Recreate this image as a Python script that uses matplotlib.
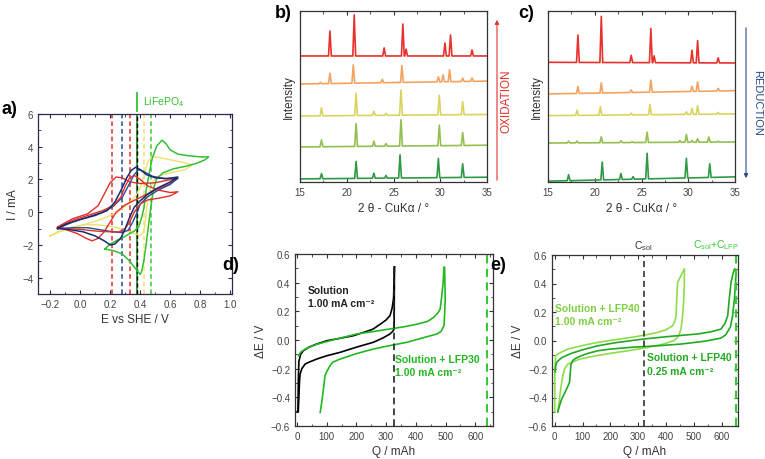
import numpy as np
import matplotlib
matplotlib.use('Agg')
import matplotlib.pyplot as plt
from matplotlib.patches import FancyArrowPatch
from matplotlib.ticker import MultipleLocator

plt.rcParams['font.family'] = ['Liberation Sans', 'DejaVu Sans']
plt.rcParams['mathtext.default'] = 'regular'

# ---------------- a) cyclic voltammograms ----------------
green_cv_x = [0.165, 0.20, 0.26, 0.31, 0.36, 0.39, 0.41, 0.425, 0.44, 0.46, 0.48, 0.51, 0.545, 0.57,
              0.60, 0.65, 0.72, 0.80, 0.855, 0.83, 0.78, 0.70, 0.62, 0.55, 0.51, 0.49, 0.478, 0.466,
              0.455, 0.44, 0.425, 0.41, 0.40, 0.385, 0.36, 0.32, 0.28, 0.22, 0.165]
green_cv_y = [-2.25, -1.95, -1.65, -1.42, -1.15, -0.9, -0.3, 0.3, 1.4, 2.4, 3.3, 4.05, 4.4, 4.2,
              3.8, 3.55, 3.45, 3.38, 3.38, 3.2, 3.0, 2.8, 2.65, 2.4, 2.05, 1.5, 0.8, 0.0,
              -0.8, -1.9, -2.9, -3.6, -3.8, -3.65, -3.35, -2.9, -2.55, -2.35, -2.25]
yellow_cv_x = [-0.2, -0.15, -0.05, 0.05, 0.15, 0.25, 0.32, 0.37, 0.40, 0.43, 0.45, 0.48, 0.52, 0.60,
               0.68, 0.745, 0.70, 0.62, 0.55, 0.50, 0.47, 0.45, 0.44, 0.43, 0.42, 0.40, 0.37, 0.32,
               0.25, 0.15, 0.05, -0.05, -0.15, -0.2]
yellow_cv_y = [-1.45, -1.2, -0.95, -0.7, -0.4, 0.0, 0.5, 1.0, 1.5, 2.4, 3.1, 3.4, 3.35, 3.2,
               3.05, 2.9, 2.6, 2.45, 2.3, 2.1, 1.6, 0.8, 0.0, -0.8, -1.25, -1.4, -1.35, -1.15,
               -0.95, -0.8, -0.75, -0.9, -1.25, -1.45]
blue1_cv_x = [-0.15, -0.1, 0.0, 0.1, 0.18, 0.23, 0.27, 0.31, 0.34, 0.37, 0.40, 0.44, 0.50, 0.58, 0.65,
              0.60, 0.52, 0.45, 0.40, 0.36, 0.33, 0.30, 0.27, 0.23, 0.20, 0.16, 0.10, 0.02, -0.08, -0.15]
blue1_cv_y = [-1.0, -0.75, -0.45, -0.2, 0.1, 0.6, 1.3, 2.1, 2.55, 2.75, 2.6, 2.3, 2.1, 2.05, 2.15,
              1.85, 1.5, 1.1, 0.7, 0.3, -0.3, -1.0, -1.6, -1.95, -2.0, -1.75, -1.45, -1.2, -1.05, -1.0]
blue2_cv_x = [-0.15, -0.05, 0.05, 0.15, 0.22, 0.28, 0.32, 0.36, 0.39, 0.42, 0.48, 0.56, 0.65,
              0.60, 0.52, 0.45, 0.40, 0.38, 0.35, 0.32, 0.28, 0.22, 0.15, 0.05, -0.05, -0.15]
blue2_cv_y = [-1.0, -0.6, -0.3, 0.0, 0.35, 0.9, 1.6, 2.3, 2.6, 2.5, 2.2, 2.05, 2.1,
              1.7, 1.35, 0.95, 0.5, 0.0, -0.6, -1.1, -1.25, -1.2, -1.1, -0.95, -0.95, -1.0]
red1_cv_x = [-0.15, -0.05, 0.05, 0.12, 0.16, 0.20, 0.24, 0.28, 0.33, 0.40, 0.50, 0.58, 0.65,
             0.60, 0.50, 0.40, 0.30, 0.24, 0.20, 0.16, 0.12, 0.08, 0.04, -0.02, -0.10, -0.15]
red1_cv_y = [-0.9, -0.4, -0.1, 0.4, 1.1, 1.8, 2.15, 2.1, 1.85, 1.75, 1.8, 1.95, 2.05,
             1.75, 1.35, 0.9, 0.45, 0.0, -0.6, -1.2, -1.6, -1.75, -1.6, -1.3, -1.05, -0.9]
red2_cv_x = [-0.15, -0.05, 0.05, 0.15, 0.22, 0.27, 0.30, 0.33, 0.36, 0.40, 0.45, 0.52, 0.60, 0.65,
             0.60, 0.52, 0.45, 0.40, 0.36, 0.33, 0.30, 0.26, 0.20, 0.10, 0.0, -0.10, -0.15]
red2_cv_y = [-0.95, -0.5, -0.2, 0.1, 0.4, 0.9, 1.6, 2.1, 2.25, 2.0, 1.6, 1.35, 1.2, 1.25,
             1.0, 0.85, 0.75, 0.5, 0.0, -0.6, -1.0, -1.2, -1.2, -1.15, -1.05, -1.0, -0.95]
e0_lines = [0.21, 0.28, 0.335, 0.425, 0.47]
e0_colors = ['#e0302a', '#2a4a9a', '#e0302a', '#f0e070', '#33cc33']
lfp_e0 = 0.378

# ---------------- b), c) XRD patterns ----------------
xrd_colors = ['#e8312a', '#f4a35e', '#d9d45e', '#93bf4f', '#2f9a45']
ox_base = [(73.7, 73.7), (57.3, 59.0), (38.6, 39.5), (20.5, 21.5), (1.8, 2.8)]
ox_peaks = [
    [(18.2, 14.6), (20.8, 24.0), (24.0, 4.7), (26.0, 18.7), (26.35, 4.0), (30.5, 7.6), (31.1, 12.3), (33.4, 3.5)],
    [(17.2, 0.8), (18.2, 6.0), (20.7, 10.7), (23.8, 2.0), (25.9, 9.8), (29.8, 3.0), (30.3, 4.0), (31.0, 7.0), (32.4, 2.0), (33.4, 2.0)],
    [(17.3, 4.6), (21.0, 13.0), (22.9, 2.5), (24.2, 1.2), (25.8, 14.8), (29.9, 11.5), (32.4, 7.6)],
    [(17.3, 4.0), (21.0, 13.4), (22.9, 3.0), (24.2, 1.5), (25.8, 15.3), (29.9, 12.0), (32.4, 7.5)],
    [(17.3, 3.0), (21.0, 10.0), (22.9, 3.0), (24.2, 1.5), (25.7, 13.6), (29.8, 11.2), (32.4, 8.0)],
]
red_base = [(70.0, 69.6), (51.5, 53.4), (38.8, 39.8), (22.8, 23.4), (0.5, 3.0)]
red_peaks = [
    [(18.2, 16.0), (20.7, 27.0), (23.9, 4.3), (26.0, 20.0), (26.35, 4.0), (30.4, 7.4), (31.0, 13.0), (33.2, 3.0)],
    [(18.2, 4.0), (20.7, 6.0), (23.9, 1.5), (26.0, 7.0), (30.4, 3.0), (31.0, 5.5), (33.2, 1.5)],
    [(18.1, 3.0), (20.6, 5.0), (23.9, 1.0), (25.9, 6.0), (29.8, 1.5), (30.4, 3.5), (31.0, 5.0), (33.2, 1.0)],
    [(17.2, 1.0), (18.1, 1.0), (20.7, 3.5), (22.8, 1.0), (24.0, 0.5), (25.6, 6.0), (29.1, 1.0), (29.8, 4.5),
     (30.4, 1.0), (31.0, 2.0), (32.2, 3.0), (33.2, 0.5)],
    [(17.2, 3.5), (20.8, 10.5), (22.8, 3.5), (24.1, 1.5), (25.6, 15.0), (29.8, 11.5), (32.3, 8.0)],
]

# ---------------- d) solution vs solution + LFP30 ----------------
sol_ch_q = [0, 3, 4, 6, 12, 21, 40, 66, 100, 145, 190, 224, 255, 280, 300, 313, 320, 325, 328]
sol_ch_e = [-0.50, -0.50, -0.30, -0.15, -0.10, -0.075, -0.05, -0.028, -0.005, 0.012, 0.03, 0.053, 0.075,
            0.11, 0.14, 0.17, 0.22, 0.29, 0.51]
sol_dis_q = [328, 327, 322, 313, 290, 257, 200, 145, 100, 66, 40, 27, 16, 10, 8, 6, 4]
sol_dis_e = [0.51, 0.077, 0.06, 0.042, 0.015, -0.016, -0.05, -0.086, -0.11, -0.133, -0.155, -0.168, -0.2,
             -0.24, -0.295, -0.40, -0.50]
lfp30_ch_q = [5, 12, 30, 66, 120, 201, 260, 313, 360, 403, 440, 460, 475, 482, 487, 492, 495]
lfp30_ch_e = [-0.11, -0.085, -0.06, -0.03, 0.0, 0.042, 0.06, 0.077, 0.092, 0.11, 0.13, 0.158, 0.19, 0.216,
              0.30, 0.40, 0.507]
lfp30_dis_q = [497, 499, 497, 495, 485, 471, 420, 370, 310, 257, 200, 145, 120, 111, 100, 94, 89, 84, 78]
lfp30_dis_e = [0.507, 0.29, 0.18, 0.10, 0.06, 0.042, 0.013, -0.016, -0.04, -0.063, -0.095, -0.133, -0.155,
               -0.18, -0.22, -0.25, -0.34, -0.42, -0.505]
c_sol = 325
c_total_d = 640

# ---------------- e) solution + LFP40 ----------------
lfp40a_ch_q = [0, 0, 3, 15, 47, 100, 155, 215, 275, 330, 370, 400, 424, 433, 436, 439, 442, 455, 466]
lfp40a_ch_e = [-0.50, -0.20, -0.107, -0.09, -0.06, -0.035, -0.013, 0.005, 0.022, 0.04, 0.057, 0.075, 0.104,
               0.14, 0.174, 0.30, 0.408, 0.46, 0.50]
lfp40a_dis_q = [466, 466, 464, 460, 454, 445, 430, 390, 335, 270, 200, 140, 90, 65, 47, 35, 29, 22, 17, 11]
lfp40a_dis_e = [0.50, 0.40, 0.29, 0.18, 0.08, 0.03, 0.0, -0.025, -0.048, -0.07, -0.09, -0.11, -0.13, -0.15,
                -0.165, -0.2, -0.247, -0.33, -0.41, -0.504]
lfp40b_ch_q = [2, 3, 8, 25, 60, 100, 155, 220, 322, 420, 514, 560, 598, 612, 622, 628, 634, 640, 646]
lfp40b_ch_e = [-0.22, -0.18, -0.15, -0.12, -0.09, -0.065, -0.037, -0.015, 0.011, 0.03, 0.046, 0.06, 0.08,
               0.12, 0.174, 0.30, 0.408, 0.46, 0.50]
lfp40b_dis_q = [648, 652, 650, 646, 640, 632, 615, 598, 540, 454, 370, 275, 200, 155, 120, 95, 75, 65, 58,
                56, 53, 45, 35, 25, 17, 11]
lfp40b_dis_e = [0.50, 0.478, 0.40, 0.29, 0.18, 0.097, 0.04, 0.017, -0.005, -0.025, -0.037, -0.048, -0.06,
                -0.072, -0.09, -0.107, -0.125, -0.14, -0.17, -0.223, -0.294, -0.33, -0.37, -0.41, -0.457, -0.5]
c_total_e = 652


def xrd_trace(base, peaks, w=0.15):
    # baseline segments with narrow spikes at the read peak positions
    b0, b1 = base
    xs, ys = [15.0], [b0]
    for p, h in peaks:
        b = b0 + (b1 - b0) * (p - 15) / 20
        xs += [p - w, p, p + w]
        ys += [b, b + h, b]
    xs.append(35.0)
    ys.append(b1)
    return xs, ys


def frame(ax, color='#333333'):
    for s in ax.spines.values():
        s.set_color(color)
        s.set_linewidth(0.9)
    ax.tick_params(direction='in', which='both', labelsize=7, top=True, right=True,
                   colors=color, labelcolor='#444444')
    ax.tick_params(which='major', length=3)
    ax.tick_params(which='minor', length=1.8)


fig = plt.figure(figsize=(7.65, 4.6), dpi=100)
W, H = 765.0, 460.0


def axes_px(l, t, r, b):
    return fig.add_axes([l / W, 1 - b / H, (r - l) / W, (b - t) / H])


# ----- a -----
ax = axes_px(38, 115, 232, 295)
frame(ax, '#2a2a4a')
for x0, c in zip(e0_lines, e0_colors):
    ax.axvline(x0, color=c, ls='--', lw=1.1, dashes=(3, 2))
ax.axvline(lfp_e0, color='#1a8a1a', lw=1.2)
ax.axvline(lfp_e0, color='black', ls='--', lw=1.0, dashes=(3, 2))
ax.plot(yellow_cv_x, yellow_cv_y, color='#f0e070', lw=1.0)
ax.plot(green_cv_x, green_cv_y, color='#33c033', lw=1.1)
ax.plot(red1_cv_x, red1_cv_y, color='#e0302a', lw=1.0)
ax.plot(blue2_cv_x, blue2_cv_y, color='#2a4a9a', lw=1.0)
ax.plot(red2_cv_x, red2_cv_y, color='#e0302a', lw=1.0)
ax.plot(blue1_cv_x, blue1_cv_y, color='#1b2a6a', lw=1.1)
ax.set_xlim(-0.28, 1.01)
ax.set_ylim(-5, 6)
ax.xaxis.set_major_locator(MultipleLocator(0.2))
ax.xaxis.set_minor_locator(MultipleLocator(0.1))
ax.yaxis.set_major_locator(MultipleLocator(2))
ax.yaxis.set_minor_locator(MultipleLocator(1))
ax.set_xlabel('E vs SHE / V', fontsize=8.5, labelpad=3, color='#333333')
ax.set_ylabel('I / mA', fontsize=8.5, labelpad=2, color='#333333')
ax.plot([lfp_e0, lfp_e0], [6.2, 7.3], color='#33c033', lw=1.3, clip_on=False)
ax.text(0.42, 6.8, 'LiFePO$_4$', color='#33c033', fontsize=7.5, va='center', clip_on=False)
fig.text(2 / W, 1 - 110 / H, 'a)', fontsize=13, fontweight='bold', va='center')

# ----- b, c -----
for (l, r), bases, peaks, lab, lx in [((300, 487), ox_base, ox_peaks, 'b)', 283),
                                       ((548, 735), red_base, red_peaks, 'c)', 526)]:
    ax = axes_px(l, 12, r, 183)
    frame(ax)
    ax.tick_params(left=False, right=False, labelleft=False)
    for base, pk, c in zip(bases, peaks, xrd_colors):
        xs, ys = xrd_trace(base, pk)
        ax.plot(xs, ys, color=c, lw=1.2)
    ax.set_xlim(15, 35)
    ax.set_ylim(0, 100)
    ax.xaxis.set_major_locator(MultipleLocator(5))
    ax.xaxis.set_minor_locator(MultipleLocator(2.5))
    ax.set_yticks([])
    ax.set_xlabel('2 θ - CuKα / °', fontsize=8.5, labelpad=4, color='#333333')
    ax.set_ylabel('Intensity', fontsize=8.5, labelpad=4, color='#333333')
    fig.text(lx / W, 1 - 14 / H, lab, fontsize=13, fontweight='bold', va='center', ha='center')

fig.text(507 / W, 1 - 101 / H, 'OXIDATION', color='#e8312a', rotation=90, fontsize=8.5,
         ha='center', va='center')
fig.add_artist(FancyArrowPatch((497 / W, 1 - 184 / H), (497 / W, 1 - 18 / H),
               transform=fig.transFigure, arrowstyle='-|>', mutation_scale=6, color='#e8312a', lw=0.8))
fig.text(757 / W, 1 - 103 / H, 'REDUCTION', color='#2a4a8a', rotation=-90, fontsize=8,
         ha='center', va='center')
fig.add_artist(FancyArrowPatch((746 / W, 1 - 26 / H), (746 / W, 1 - 182 / H),
               transform=fig.transFigure, arrowstyle='-|>', mutation_scale=6, color='#2a4a8a', lw=0.8))

# ----- d -----
ax = axes_px(295, 255, 493, 427)
frame(ax)
ax.plot(sol_ch_q, sol_ch_e, color='black', lw=1.2)
ax.plot(sol_dis_q, sol_dis_e, color='black', lw=1.2)
ax.plot(lfp30_ch_q, lfp30_ch_e, color='#22b822', lw=1.2)
ax.plot(lfp30_dis_q, lfp30_dis_e, color='#22b822', lw=1.2)
ax.plot([c_sol, c_sol], [-0.6, 0.53], color='#222222', ls='--', lw=1.2, dashes=(4, 2.5))
ax.axvline(c_total_d, color='#33cc33', ls='--', lw=1.5, dashes=(4, 2.5))
ax.text(36, 0.385, 'Solution\n1.00 mA cm⁻²', fontsize=7.5, fontweight='bold', va='top',
        linespacing=1.4, color='#222222')
ax.text(330, -0.095, 'Solution + LFP30\n1.00 mA cm⁻²', fontsize=7.5, fontweight='bold', va='top',
        linespacing=1.4, color='#22b822')
ax.set_xlim(-7, 660)
ax.set_ylim(-0.6, 0.6)
ax.xaxis.set_major_locator(MultipleLocator(100))
ax.xaxis.set_minor_locator(MultipleLocator(50))
ax.yaxis.set_major_locator(MultipleLocator(0.2))
ax.yaxis.set_minor_locator(MultipleLocator(0.1))
ax.set_xlabel('Q / mAh', fontsize=8.5, labelpad=3, color='#333333')
ax.set_ylabel('ΔE / V', fontsize=8.5, labelpad=3, color='#333333')
fig.text(231 / W, 1 - 266 / H, 'd)', fontsize=13, fontweight='bold', va='center', ha='center')

# ----- e -----
ax = axes_px(552, 256, 738, 427)
frame(ax)
ax.plot(lfp40a_ch_q, lfp40a_ch_e, color='#8fdc4a', lw=1.2)
ax.plot(lfp40a_dis_q, lfp40a_dis_e, color='#8fdc4a', lw=1.2)
ax.plot(lfp40b_ch_q, lfp40b_ch_e, color='#22a822', lw=1.2)
ax.plot(lfp40b_dis_q, lfp40b_dis_e, color='#22a822', lw=1.2)
ax.axvline(c_sol - 3, color='#222222', ls='--', lw=1.1, dashes=(4, 2.5))
ax.axvline(c_total_e, color='#33cc33', ls='--', lw=1.5, dashes=(4, 2.5))
ax.text(1, 0.265, 'Solution + LFP40\n1.00 mA cm⁻²', fontsize=7.5, fontweight='bold', va='top',
        linespacing=1.4, color='#7fd040')
ax.text(332, -0.083, 'Solution + LFP40\n0.25 mA cm⁻²', fontsize=7.5, fontweight='bold', va='top',
        linespacing=1.4, color='#22a822')
ax.set_xlim(-10, 659)
ax.set_ylim(-0.6, 0.6)
ax.xaxis.set_major_locator(MultipleLocator(100))
ax.xaxis.set_minor_locator(MultipleLocator(50))
ax.yaxis.set_major_locator(MultipleLocator(0.2))
ax.yaxis.set_minor_locator(MultipleLocator(0.1))
ax.set_xlabel('Q / mAh', fontsize=8.5, labelpad=3, color='#333333')
ax.set_ylabel('ΔE / V', fontsize=8.5, labelpad=3, color='#333333')
fig.text(643 / W, 1 - 246 / H, 'C$_{sol}$', fontsize=7.5, ha='center', va='center', color='#333333')
fig.text(716 / W, 1 - 245 / H, 'C$_{sol}$+C$_{LFP}$', fontsize=7.5, ha='center', va='center',
         color='#33cc33')
fig.text(498 / W, 1 - 266 / H, 'e)', fontsize=13, fontweight='bold', va='center', ha='center')

fig.savefig('out.png', dpi=100)
